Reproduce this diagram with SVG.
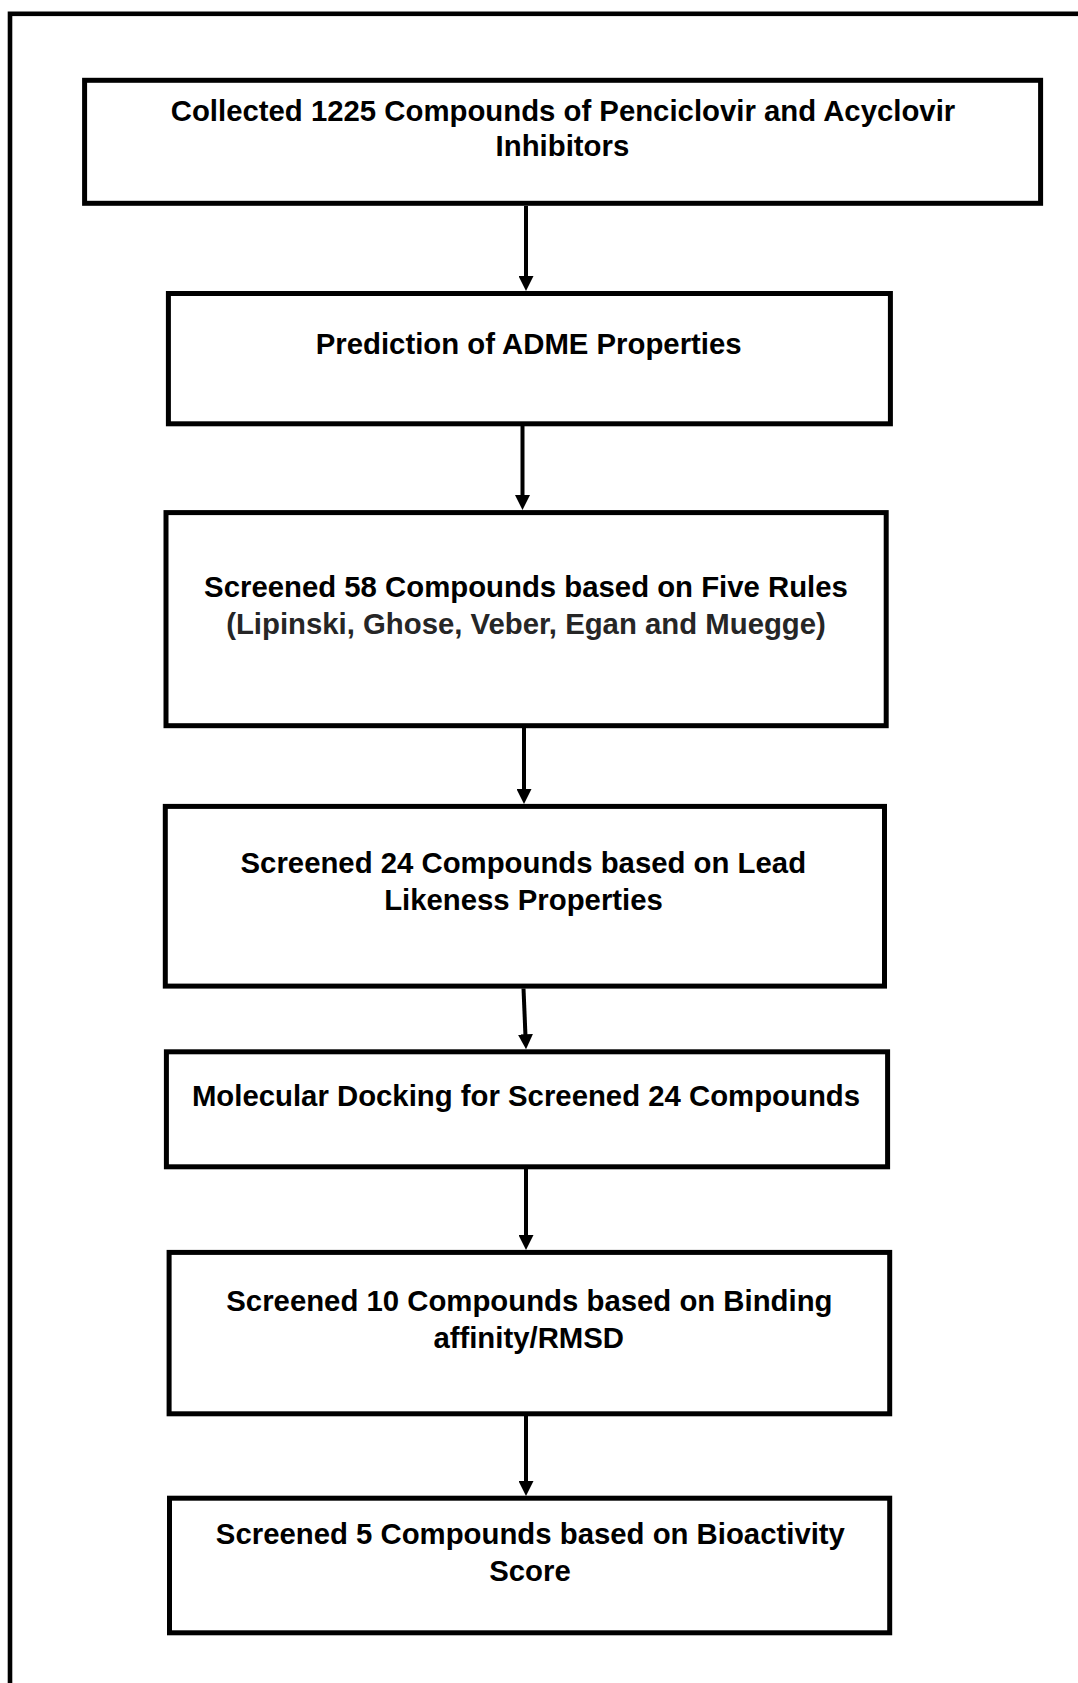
<svg xmlns="http://www.w3.org/2000/svg" width="1078" height="1683" viewBox="0 0 1078 1683">
<style>
.box{fill:#fff;stroke:#000;stroke-width:5}
.t{font-family:"Liberation Sans",Arial,sans-serif;font-weight:bold;font-size:29.33px;fill:#000;text-anchor:middle}
.g{fill:#262626}
.c{stroke:#000;stroke-width:4;fill:none}
</style>
<defs>
<marker id="ah" viewBox="0 0 15 15" refX="7" refY="7.5" markerWidth="15" markerHeight="15" markerUnits="userSpaceOnUse" orient="auto">
<path d="M0,0 L15,7.5 L0,15 z" fill="#000"/>
</marker>
</defs>
<rect width="1078" height="1683" fill="#fff"/>
<rect x="10" y="13.8" width="1120" height="1720" fill="none" stroke="#000" stroke-width="4.6"/>
<g id="connectors">
<line class="c" x1="526" y1="206" x2="526" y2="283" marker-end="url(#ah)"/>
<line class="c" x1="522.5" y1="426" x2="522.5" y2="502" marker-end="url(#ah)"/>
<line class="c" x1="524" y1="728" x2="524" y2="796" marker-end="url(#ah)"/>
<line class="c" x1="523.5" y1="988.5" x2="525.7" y2="1041.3" marker-end="url(#ah)"/>
<line class="c" x1="526" y1="1169" x2="526" y2="1242" marker-end="url(#ah)"/>
<line class="c" x1="526" y1="1416" x2="526" y2="1488" marker-end="url(#ah)"/>
</g>
<g id="n1">
<rect class="box" x="84.6" y="80.3" width="956" height="123"/>
<text class="t" x="563" y="120.7">Collected 1225 Compounds of Penciclovir and Acyclovir</text>
<text class="t" x="562.4" y="156">Inhibitors</text>
</g>
<g id="n2">
<rect class="box" x="168.4" y="293.5" width="722" height="130.3"/>
<text class="t" x="528.7" y="354">Prediction of ADME Properties</text>
</g>
<g id="n3">
<rect class="box" x="166" y="512.6" width="720.2" height="213.1"/>
<text class="t" x="526" y="596.6">Screened 58 Compounds based on Five Rules</text>
<text class="t g" x="526" y="634">(Lipinski, Ghose, Veber, Egan and Muegge)</text>
</g>
<g id="n4">
<rect class="box" x="165.3" y="806.4" width="719.2" height="179.7"/>
<text class="t" x="523.3" y="873.4">Screened 24 Compounds based on Lead</text>
<text class="t" x="523.5" y="909.5">Likeness Properties</text>
</g>
<g id="n5">
<rect class="box" x="166.4" y="1051.8" width="721.2" height="115"/>
<text class="t" x="526" y="1105.8">Molecular Docking for Screened 24 Compounds</text>
</g>
<g id="n6">
<rect class="box" x="169.1" y="1252.4" width="720.6" height="161.4"/>
<text class="t" x="529.4" y="1311.4">Screened 10 Compounds based on Binding</text>
<text class="t" x="528.7" y="1348.4">affinity/RMSD</text>
</g>
<g id="n7">
<rect class="box" x="169.5" y="1498.2" width="720.2" height="134.6"/>
<text class="t" x="530.4" y="1544.4">Screened 5 Compounds based on Bioactivity</text>
<text class="t" x="530" y="1581.4">Score</text>
</g>
</svg>
